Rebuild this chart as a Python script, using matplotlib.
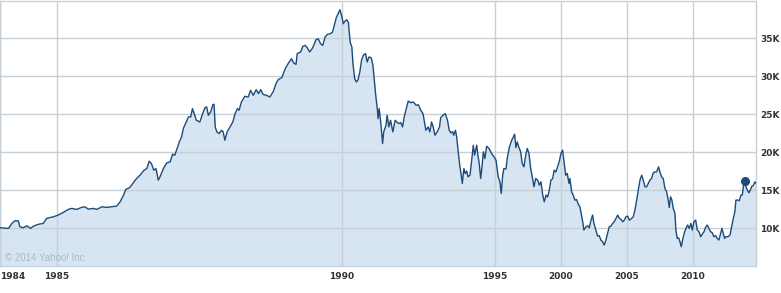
import numpy as np
import matplotlib
matplotlib.use("Agg")
import matplotlib.pyplot as plt

# Nikkei 225 closes (decimal year, index level)
years = [
    1984.00, 1984.15, 1984.21, 1984.26, 1984.32, 1984.35, 1984.41, 1984.47, 1984.54, 1984.58,
    1984.67, 1984.76, 1984.82, 1984.94, 1985.02, 1985.11, 1985.20, 1985.26, 1985.35, 1985.43,
    1985.49, 1985.55, 1985.64, 1985.70, 1985.79, 1985.87, 1985.96, 1986.05, 1986.11, 1986.17,
    1986.21, 1986.28, 1986.34, 1986.40, 1986.46, 1986.53, 1986.58, 1986.62, 1986.66, 1986.70,
    1986.74, 1986.78, 1986.81, 1986.87, 1986.93, 1986.99, 1987.03, 1987.07, 1987.10, 1987.15,
    1987.19, 1987.22, 1987.27, 1987.31, 1987.35, 1987.38, 1987.42, 1987.45, 1987.51, 1987.56,
    1987.60, 1987.63, 1987.66, 1987.70, 1987.74, 1987.76, 1987.78, 1987.81, 1987.85, 1987.89,
    1987.92, 1987.95, 1987.99, 1988.04, 1988.09, 1988.13, 1988.17, 1988.20, 1988.24, 1988.30,
    1988.36, 1988.40, 1988.45, 1988.50, 1988.54, 1988.58, 1988.62, 1988.68, 1988.74, 1988.80,
    1988.85, 1988.89, 1988.95, 1989.01, 1989.06, 1989.12, 1989.16, 1989.20, 1989.22, 1989.28,
    1989.32, 1989.36, 1989.40, 1989.44, 1989.49, 1989.55, 1989.59, 1989.63, 1989.67, 1989.71,
    1989.75, 1989.80, 1989.84, 1989.88, 1989.91, 1989.94, 1989.97, 1990.00, 1990.03, 1990.06,
    1990.09, 1990.12, 1990.15, 1990.18, 1990.20, 1990.23, 1990.26, 1990.29, 1990.32, 1990.35,
    1990.38, 1990.42, 1990.45, 1990.48, 1990.52, 1990.55, 1990.57, 1990.60, 1990.63, 1990.64,
    1990.66, 1990.69, 1990.72, 1990.74, 1990.78, 1990.80, 1990.83, 1990.86, 1990.90, 1990.94,
    1991.00, 1991.04, 1991.07, 1991.10, 1991.13, 1991.17, 1991.21, 1991.26, 1991.31, 1991.35,
    1991.39, 1991.43, 1991.48, 1991.52, 1991.55, 1991.58, 1991.61, 1991.64, 1991.68, 1991.72,
    1991.74, 1991.78, 1991.82, 1991.86, 1991.89, 1991.92, 1991.95, 1991.97, 1992.00,
    1992.09, 1992.21, 1992.34, 1992.42, 1992.52, 1992.64, 1992.74, 1992.85, 1992.95, 1993.10,
    1993.23, 1993.35, 1993.45, 1993.61, 1993.70, 1993.80, 1993.91, 1994.01, 1994.11, 1994.23,
    1994.36, 1994.54, 1994.74, 1994.92, 1995.07, 1995.24, 1995.37, 1995.47, 1995.58, 1995.67,
    1995.83, 1995.92, 1996.08, 1996.26, 1996.33, 1996.48, 1996.58, 1996.68, 1996.81, 1996.94,
    1997.06, 1997.19, 1997.32, 1997.44, 1997.57, 1997.70, 1997.82, 1997.95, 1998.08, 1998.23,
    1998.35, 1998.48, 1998.61, 1998.73, 1998.86, 1998.98, 1999.11, 1999.23, 1999.36, 1999.48,
    1999.61, 1999.74, 1999.86, 1999.99, 2000.12, 2000.24, 2000.35, 2000.47, 2000.60, 2000.67,
    2000.80, 2000.92, 2001.05, 2001.18, 2001.30, 2001.43, 2001.64, 2001.73, 2001.89, 2002.02,
    2002.14, 2002.27, 2002.39, 2002.49, 2002.64, 2002.77, 2002.89, 2003.02, 2003.15, 2003.27,
    2003.40, 2003.53, 2003.65, 2003.78, 2003.91, 2004.03, 2004.16, 2004.29, 2004.41, 2004.54,
    2004.67, 2004.79, 2004.92, 2005.05, 2005.17, 2005.30, 2005.47, 2005.60, 2005.73, 2005.85,
    2005.98, 2006.11, 2006.23, 2006.36, 2006.48, 2006.61, 2006.73, 2006.86, 2006.98, 2007.11,
    2007.24, 2007.39, 2007.49, 2007.62, 2007.74, 2007.87, 2008.00, 2008.12, 2008.20, 2008.30,
    2008.40, 2008.50, 2008.63, 2008.70, 2008.80, 2008.91, 2009.01, 2009.11, 2009.21, 2009.33,
    2009.46, 2009.59, 2009.71, 2009.84, 2009.94, 2010.07, 2010.20, 2010.32, 2010.45, 2010.58,
    2010.70, 2010.83, 2010.95, 2011.08, 2011.20, 2011.33, 2011.45, 2011.58, 2011.71, 2011.83,
    2011.96, 2012.09, 2012.19, 2012.29, 2012.39, 2012.49, 2012.64, 2012.80, 2012.92, 2013.05,
    2013.17, 2013.25, 2013.38, 2013.50, 2013.63, 2013.73, 2013.83, 2013.91, 2014.01, 2014.11,
    2014.24, 2014.36, 2014.46, 2014.56, 2014.69, 2014.77,
]
closes = [
    10040, 9960, 10620, 10960, 10960, 10170, 10040, 10300, 9960, 10230,
    10490, 10620, 11280, 11490, 11710, 12060, 12460, 12590, 12460, 12720,
    12810, 12500, 12590, 12460, 12810, 12720, 12810, 12900, 13460, 14340,
    15090, 15350, 15960, 16540, 16970, 17630, 17850, 18820, 18510, 17630,
    17850, 16320, 16750, 17850, 18600, 18730, 19740, 19600, 20270, 21360,
    22020, 23120, 23990, 24650, 24650, 25750, 24870, 24210, 23990, 25090,
    25880, 25970, 24870, 25310, 26280, 26320, 23330, 22680, 22460, 22900,
    22680, 21580, 22680, 23330, 23990, 25090, 25750, 25530, 26620, 27370,
    27280, 28160, 27500, 28250, 27720, 28250, 27630, 27500, 27280, 28000,
    29100, 29600, 29830, 31010, 31670, 32330, 31760, 31580, 33000, 33210,
    33960, 34090, 33740, 33210, 33740, 34830, 34960, 34310, 34090, 35180,
    35530, 35620, 35830, 36940, 37810, 38250, 38780, 38030, 36940, 37280,
    37460, 37100, 34520, 33870, 31670, 29700, 29250, 29570, 30570, 32110,
    32770, 33000, 31890, 32550, 32460, 31450, 29920, 27500, 25530, 24430,
    25750, 23780, 21140, 22680, 23560, 24870, 23330, 24210, 22680, 24210,
    23780, 23900, 23330, 24650, 25530, 26750, 26530, 26620, 26190, 26250,
    25530, 25090, 22900, 23330, 22680, 23990, 23300, 22240, 22680, 23330,
    24560, 24870, 25090, 24210, 22900, 22550, 22700, 22240, 22900,
    22020, 20050, 18070, 17200, 15880, 17850, 17200, 17500, 16750, 16970,
    18950, 20920, 19610, 20920, 19610, 18510, 16540, 18070, 20050, 19170,
    20790, 20490, 19830, 19390, 18950, 16750, 16090, 14570, 16970, 17850,
    17800, 19170, 20620, 21580, 21800, 22370, 20600, 21360, 20620, 20050,
    18510, 18070, 19610, 20490, 19830, 17850, 16750, 15440, 16540, 16320,
    15660, 16100, 14340, 13460, 14340, 14100, 15000, 16320, 16500, 17630,
    17400, 18070, 18730, 19830, 20270, 18510, 16970, 17200, 15880, 16540,
    14780, 14340, 13680, 13750, 13160, 12800, 10830, 9740, 10170, 10300,
    10040, 11050, 11710, 10620, 9740, 8950, 9000, 8420, 8200, 7760,
    8420, 9300, 10170, 10250, 10620, 10830, 11280, 11710, 11300, 11140,
    10830, 11050, 11490, 11580, 11050, 11200, 11490, 12370, 13680, 15000,
    16320, 16970, 16320, 15440, 15440, 15880, 16320, 16540, 17280, 17410,
    17410, 18070, 17410, 16750, 16540, 15220, 14780, 13680, 12720, 14120,
    13680, 12590, 11930, 9740, 8640, 8700, 8200, 7540, 8420, 9300,
    9960, 10400, 9960, 10620, 9740, 10830, 11050, 9740, 9520, 8860,
    9200, 9520, 10090, 10400, 9960, 9520, 9400, 8860, 9000, 8640,
    8420, 9300, 9960, 9300, 8640, 8860, 8860, 9080, 10170, 11280,
    12150, 13680, 13700, 13600, 14340, 14340, 15660, 16230, 15440, 15000,
    14650, 15090, 15530, 15600, 16090, 15900,
]
marker_year = 2013.91
marker_close = 16230

x_ticks = [1984, 1985, 1990, 1995, 2000, 2005, 2010]
x_labels = ["1984", "1985", "1990", "1995", "2000", "2005", "2010"]
y_ticks = [10000, 15000, 20000, 25000, 30000, 35000]
y_labels = ["10K", "15K", "20K", "25K", "30K", "35K"]

# the time axis is compressed after 1992 (coarser sampling on the source chart)
anchor_years = [1984.0, 1992.0, 2015.0]
anchor_pos = [0.0, 455.5, 759.1]

def fwd(x):
    return np.interp(x, anchor_years, anchor_pos)

def inv(p):
    return np.interp(p, anchor_pos, anchor_years)

line_col = '#1d4b79'
fill_col = '#d6e5f1'
grid_col = '#c5d0d9'

fig = plt.figure(figsize=(7.81, 2.93), dpi=100)
ax = fig.add_axes([0.0, 27 / 293, 756 / 781, 265.5 / 293])
ax.set_xscale('function', functions=(fwd, inv))

ax.fill_between(years, closes, 5000, color=fill_col, lw=0, zorder=1)
ax.plot(years, closes, color=line_col, lw=1.0, zorder=3)
ax.plot([marker_year], [marker_close], 'o', color=line_col, ms=5.5, zorder=4)

ax.set_xlim(1984.0, 2014.77)
ax.set_ylim(5000, 40000)

ax.set_xticks(x_ticks)
ax.set_xticklabels(x_labels)
ax.set_yticks(y_ticks)
ax.set_yticklabels(y_labels)
ax.yaxis.tick_right()
ax.tick_params(axis='both', length=0, labelsize=6.5, labelcolor='#333333')
ax.tick_params(axis='x', pad=4)
ax.tick_params(axis='y', pad=3)
for lab in ax.get_xticklabels() + ax.get_yticklabels():
    lab.set_fontweight('bold')
ax.get_xticklabels()[0].set_horizontalalignment('left')

ax.grid(True, color=grid_col, lw=1.0)
ax.set_axisbelow(False)
for sp in ax.spines.values():
    sp.set_color(grid_col)
    sp.set_linewidth(1.0)

ax.text(0.007, 0.02, '\u00a9 2014 Yahoo! Inc.', transform=ax.transAxes,
        family='Liberation Sans', fontsize=7, color='#a9bccb', va='baseline')

fig.savefig('out.png', dpi=100)
